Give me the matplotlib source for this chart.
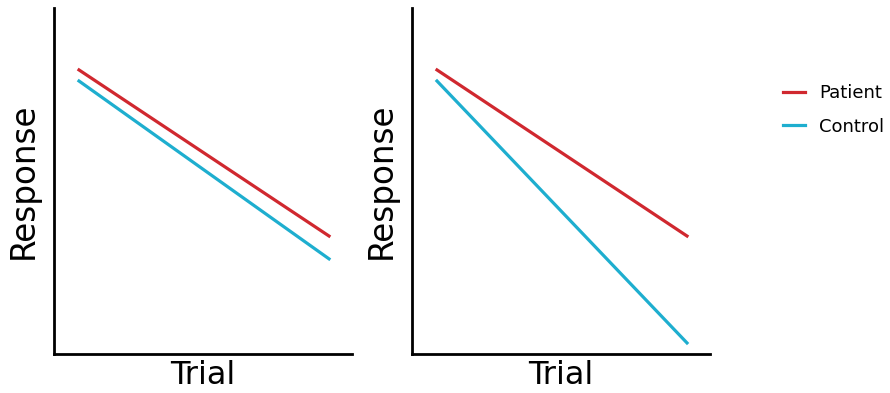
import numpy as np
import matplotlib.pyplot as plt

trial = [0, 1]
patient_left = [0.821, 0.341]
control_left = [0.789, 0.275]
patient_right = [0.821, 0.341]
control_right = [0.789, 0.032]

red = '#d0282f'
blue = '#1eaecf'

fig = plt.figure(figsize=(8.9, 3.93), dpi=100)
ax1 = fig.add_axes([54/890, 39/393, 298/890, 346/393])
ax2 = fig.add_axes([412/890, 39/393, 298/890, 346/393])

for ax, p, c in [(ax1, patient_left, control_left), (ax2, patient_right, control_right)]:
    ax.plot(trial, p, color=red, lw=2.3, label='Patient')
    ax.plot(trial, c, color=blue, lw=2.3, label='Control')
    ax.set_xlim(-0.1, 1.092)
    ax.set_ylim(0, 1)
    ax.set_xticks([])
    ax.set_yticks([])
    for s in ['top', 'right']:
        ax.spines[s].set_visible(False)
    for s in ['left', 'bottom']:
        ax.spines[s].set_linewidth(2)
    ax.set_xlabel('Trial', fontsize=23, labelpad=4)
    ax.set_ylabel('Response', fontsize=23.5, labelpad=10)

fig.legend(*ax2.get_legend_handles_labels(), loc='upper left',
           bbox_to_anchor=(767/890, 1 - 68/393), frameon=False,
           fontsize=13, handlelength=1.2, labelspacing=0.85)

fig.savefig('out.png', dpi=100)
